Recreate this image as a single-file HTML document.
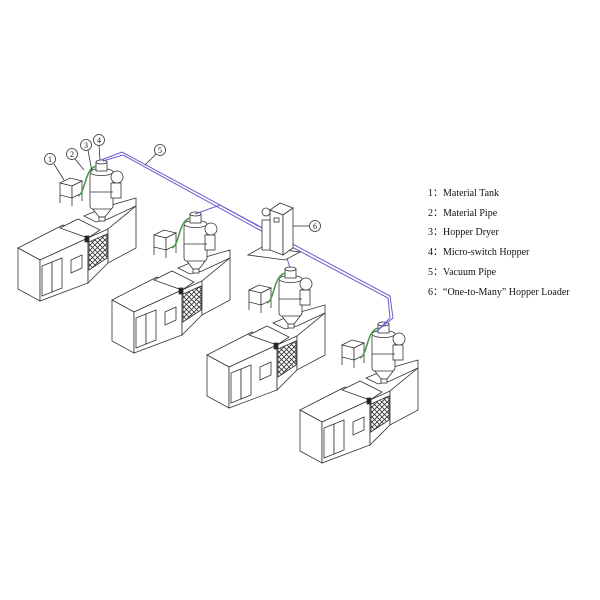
<!DOCTYPE html>
<html><head><meta charset="utf-8"><style>
html,body{margin:0;padding:0;background:#fff}
svg{display:block}
text{font-family:"Liberation Serif",serif;fill:#111}
</style></head><body>
<svg width="600" height="600" viewBox="0 0 600 600" xmlns="http://www.w3.org/2000/svg">
<defs>
<pattern id="mesh" width="5" height="5" patternUnits="userSpaceOnUse">
<path d="M0 0L5 5M5 0L0 5" stroke="#333" stroke-width="0.8"/>
</pattern>
<g id="unit" fill="#fff" stroke="#333" stroke-width="0.8">
 <!-- main body -->
 <polygon points="18,248 63,225 88,238 40,260"/>
 <polygon points="18,248 40,260 40,301 18,289"/>
 <polygon points="40,260 88,238 88,283 40,301"/>
 <polygon points="60,228 78,219 100,230 88,238"/>
 <polygon points="42,266 52,262 52,292 42,296"/>
 <polygon points="52,262 62,258 62,288 52,292"/>
 <polygon points="71,260 82,255 82,268 71,273"/>
 <polygon points="88,238 108,229 108,263 88,283"/>
 <polygon points="89,242 107,234 107,258 89,270" fill="url(#mesh)"/>
 <polygon points="108,229 108,263 136,248 136,206"/>
 <polygon points="84,216 108,206 136,198 136,206 108,219 96,222"/>
 <rect x="85" y="236" width="4" height="6" fill="#222"/>
 <!-- dryer -->
 <polygon points="92,208 112,208 105,217 99,217"/>
 <rect x="99" y="217" width="6" height="4"/>
 <rect x="90" y="172" width="23" height="37" rx="3"/>
 <ellipse cx="101.5" cy="172" rx="11.5" ry="3.5"/>
 <rect x="96" y="162" width="11" height="9"/>
 <ellipse cx="101.5" cy="162" rx="5.5" ry="2"/>
 <circle cx="117" cy="177" r="6"/>
 <rect x="111" y="183" width="10" height="15"/>
 <line x1="90" y1="192" x2="113" y2="192"/>
 <!-- tank -->
 <polygon points="60,183 70,178 82,181 72,186"/>
 <polygon points="60,183 72,186 72,198 60,195"/>
 <polygon points="72,186 82,181 82,193 72,198"/>
 <line x1="60" y1="195" x2="60" y2="203"/><line x1="72" y1="198" x2="72" y2="206"/><line x1="82" y1="193" x2="82" y2="201"/>
 <path d="M78,196 C86,192 84,170 96,166" stroke="#4a9a4a" stroke-width="1.6" fill="none"/>
</g>
</defs>
<use href="#unit"/>
<use href="#unit" transform="translate(94,52)"/>
<use href="#unit" transform="translate(189,107)"/>
<use href="#unit" transform="translate(282,162)"/>
<!-- vacuum pipes -->
<g fill="none" stroke="#6a5acd" stroke-width="1">
 <path d="M101,160 L122,152 L257,225 L390,296 L393,318 L378,330"/>
 <path d="M103,161 L123,155 L256,228 L388,298 L390,318 L376,332"/>
 <path d="M195,214 L220,205 L258,226"/>
 <path d="M262,240 L285,252 L290,268"/>
</g>
<!-- loader 6 -->
<g fill="#fff" stroke="#333" stroke-width="0.8">
 <polygon points="248,255 262,247 300,252 285,260"/>
 <polygon points="270,210 280,203 293,208 283,215"/>
 <polygon points="270,210 283,215 283,255 270,250"/>
 <polygon points="283,215 293,208 293,248 283,255"/>
 <circle cx="266" cy="212" r="4"/>
 <rect x="262" y="220" width="8" height="30"/>
 <rect x="274" y="218" width="5" height="4"/>
</g>
<!-- callouts -->
<g fill="#fff" stroke="#333" stroke-width="0.8">
 <circle cx="50" cy="159" r="5.5"/><circle cx="72" cy="154" r="5.5"/><circle cx="86" cy="145" r="5.5"/><circle cx="99" cy="140" r="5.5"/><circle cx="160" cy="150" r="5.5"/><circle cx="315" cy="226" r="5.5"/>
 <line x1="54" y1="164" x2="64" y2="180"/><line x1="75" y1="159" x2="84" y2="170"/><line x1="88" y1="150" x2="92" y2="172"/><line x1="99" y1="145" x2="100" y2="160"/><line x1="156" y1="154" x2="145" y2="165"/><line x1="309" y1="226" x2="293" y2="226"/>
</g>
<g font-size="8" text-anchor="middle">
 <text x="50" y="162">1</text><text x="72" y="157">2</text><text x="86" y="148">3</text><text x="99" y="143">4</text><text x="160" y="153">5</text><text x="315" y="229">6</text>
</g>
<g font-size="10">
 <text x="428" y="196">1：Material Tank</text>
 <text x="428" y="216">2：Material Pipe</text>
 <text x="428" y="235">3：Hopper Dryer</text>
 <text x="428" y="255">4：Micro-switch Hopper</text>
 <text x="428" y="275">5：Vacuum Pipe</text>
 <text x="428" y="295">6：“One-to-Many” Hopper Loader</text>
</g>
</svg>
</body></html>
